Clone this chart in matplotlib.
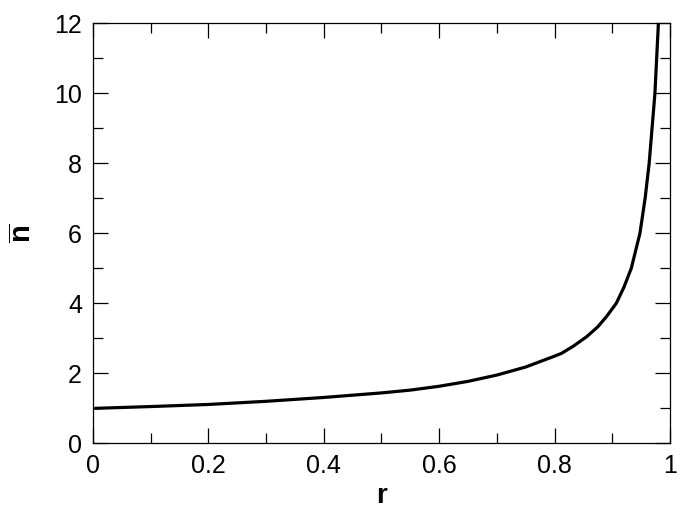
import matplotlib
matplotlib.use('Agg')
import matplotlib.pyplot as plt
from matplotlib.ticker import MultipleLocator

# values
r_vals = [0.005, 0.1, 0.2, 0.3, 0.4, 0.5, 0.55, 0.6, 0.65, 0.7, 0.75, 0.8, 0.812,
          0.833, 0.856, 0.875, 0.89, 0.907, 0.92, 0.933, 0.948, 0.957, 0.964,
          0.969, 0.974, 0.977, 0.980]
n_vals = [1.0, 1.05, 1.11, 1.2, 1.31, 1.44, 1.52, 1.63, 1.77, 1.95, 2.18, 2.49, 2.57,
          2.78, 3.05, 3.33, 3.62, 4.0, 4.45, 5.0, 6.0, 7.0, 8.0,
          9.0, 10.0, 11.0, 12.0]

plt.rcParams['font.family'] = ['Liberation Sans', 'DejaVu Sans']
plt.rcParams['mathtext.fontset'] = 'custom'
plt.rcParams['mathtext.rm'] = 'Liberation Sans'
plt.rcParams['mathtext.bf'] = 'Liberation Sans:bold'

fig = plt.figure(figsize=(6.85, 5.25), dpi=100)
ax = fig.add_axes([0.1358, 0.1556, 0.8422, 0.80])

ax.plot(r_vals, n_vals, color='black', lw=2.3)

ax.set_xlim(0, 1)
ax.set_ylim(0, 12)
ax.xaxis.set_major_locator(MultipleLocator(0.2))
ax.xaxis.set_minor_locator(MultipleLocator(0.1))
ax.yaxis.set_major_locator(MultipleLocator(2))
ax.yaxis.set_minor_locator(MultipleLocator(1))
ax.set_xticks([0, 0.2, 0.4, 0.6, 0.8, 1.0])
ax.set_xticklabels(['0', '0.2', '0.4', '0.6', '0.8', '1'])

ax.tick_params(which='both', direction='in', top=True, right=True, width=0.9,
               labelsize=18, pad=8)
ax.tick_params(which='major', length=11)
ax.tick_params(which='minor', length=7)
for s in ax.spines.values():
    s.set_linewidth(0.9)

ax.set_xlabel('r', fontsize=20, fontweight='bold', labelpad=3)
ax.set_ylabel(r'$\overline{\mathbf{n}}$', fontsize=21, labelpad=12)

fig.savefig('out.png', dpi=100)
